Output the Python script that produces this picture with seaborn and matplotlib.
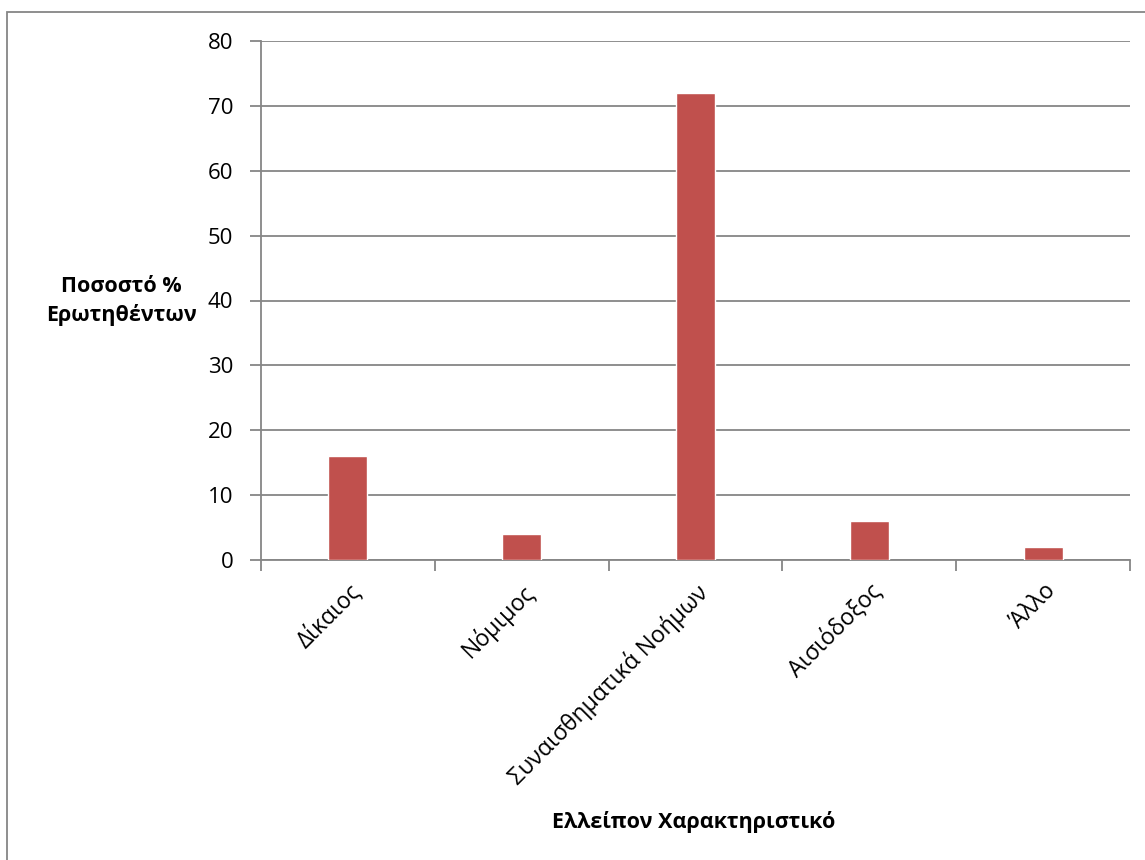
import matplotlib
matplotlib.use("Agg")
import matplotlib.pyplot as plt
import seaborn as sns
import pandas as pd
from matplotlib.patches import Rectangle

categories = ["Δίκαιος", "Νόμιμος", "Συναισθηματικά Νοήμων", "Αισιόδοξος", "Άλλο"]
values = [16, 4, 72, 6, 2]
yticks = [0, 10, 20, 30, 40, 50, 60, 70, 80]

sns.set_style("white")
plt.rcParams['font.family'] = ['Open Sans', 'DejaVu Sans']

df = pd.DataFrame({"cat": categories, "val": values})

fig = plt.figure(figsize=(11.45, 8.6), dpi=100)
ax = fig.add_axes([261/1145, 1-560/860, (1130-261)/1145, (560-41)/860])

sns.barplot(data=df, x="cat", y="val", color="#C0504D", width=0.225,
            saturation=1, ax=ax, zorder=3)

gray = "#868686"
ax.set_ylim(0, 80)
ax.set_xlim(-0.5, len(categories) - 0.5)
ax.set_yticks(yticks)
ax.yaxis.grid(True, color=gray, linewidth=1.3, zorder=0)
ax.set_axisbelow(True)
for s in ["top", "right"]:
    ax.spines[s].set_visible(False)
for s in ["left", "bottom"]:
    ax.spines[s].set_color(gray)
    ax.spines[s].set_linewidth(1.3)

ax.tick_params(axis="y", length=8, width=1.3, color=gray, labelsize=16, pad=12,
               left=True, labelcolor="black")
ax.set_xticks(range(len(categories)))
ax.set_xticklabels(categories, rotation=45, ha="right", rotation_mode="anchor",
                   fontsize=16.5, color="black")
ax.tick_params(axis="x", length=0, pad=14)
# category separators as minor ticks
ax.set_xticks([i - 0.5 for i in range(len(categories) + 1)], minor=True)
ax.tick_params(axis="x", which="minor", length=8, width=1.3, color=gray, bottom=True)

ax.set_xlabel("")
ax.set_ylabel("")
fig.text(121/1145, 1-301/860, "Ποσοστό %\nΕρωτηθέντων", ha="center", va="center",
         fontsize=15.5, fontweight="bold", linespacing=1.45, color="black")
fig.text(694/1145, 1-822/860, "Ελλείπον Χαρακτηριστικό", ha="center", va="center",
         fontsize=15.5, fontweight="bold", color="black")

fig.add_artist(Rectangle((7/1145, -0.05), 1.2, 1-12/860+0.05, transform=fig.transFigure,
                         fill=False, edgecolor=gray, linewidth=1.3))

fig.savefig("out.png", dpi=100)
